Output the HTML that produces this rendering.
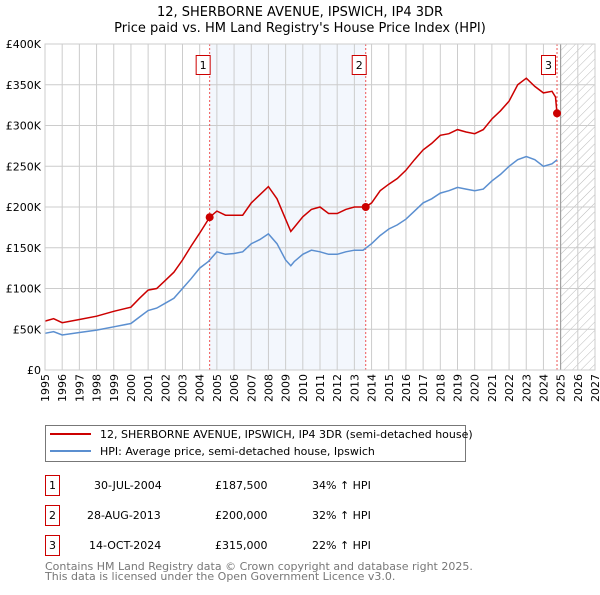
<!DOCTYPE html>
<html><head><meta charset="utf-8"><style>
body{margin:0;background:#fff;}
svg text{font-family:"DejaVu Sans","Liberation Sans",sans-serif;}
</style></head><body>
<svg id="chart" width="600" height="590" viewBox="0 0 600 590" xmlns="http://www.w3.org/2000/svg">
<text x="300" y="16" text-anchor="middle" font-size="13">12, SHERBORNE AVENUE, IPSWICH, IP4 3DR</text>
<text x="300" y="32" text-anchor="middle" font-size="13">Price paid vs. HM Land Registry's House Price Index (HPI)</text>
<defs><pattern id="hatch" width="6" height="6" patternUnits="userSpaceOnUse" patternTransform="rotate(45)"><line x1="0" y1="0" x2="0" y2="6" stroke="#bbb" stroke-width="1"/></pattern></defs>
<g id="plot"></g>
<g>
<rect x="45.5" y="425.5" width="420" height="36" fill="#fff" stroke="#777"/>
<line x1="50" y1="434" x2="91" y2="434" stroke="#cc0000" stroke-width="2"/>
<text x="100" y="438" font-size="11">12, SHERBORNE AVENUE, IPSWICH, IP4 3DR (semi-detached house)</text>
<line x1="50" y1="451" x2="91" y2="451" stroke="#5b8fd0" stroke-width="2"/>
<text x="100" y="455" font-size="11">HPI: Average price, semi-detached house, Ipswich</text>
</g>
<g font-size="11">
<rect x="45.5" y="475.5" width="14" height="20" fill="#fff" stroke="#cc0000"/><text x="52.5" y="489" text-anchor="middle">1</text>
<text x="94" y="489">30-JUL-2004</text><text x="215" y="489">£187,500</text><text x="312" y="489">34% ↑ HPI</text>
<rect x="45.5" y="505.5" width="14" height="20" fill="#fff" stroke="#cc0000"/><text x="52.5" y="519" text-anchor="middle">2</text>
<text x="87" y="519">28-AUG-2013</text><text x="215" y="519">£200,000</text><text x="312" y="519">32% ↑ HPI</text>
<rect x="45.5" y="535.5" width="14" height="20" fill="#fff" stroke="#cc0000"/><text x="52.5" y="549" text-anchor="middle">3</text>
<text x="89" y="549">14-OCT-2024</text><text x="215" y="549">£315,000</text><text x="312" y="549">22% ↑ HPI</text>
</g>
<g font-size="11" fill="#777">
<text x="45" y="570">Contains HM Land Registry data © Crown copyright and database right 2025.</text>
<text x="45" y="580">This data is licensed under the Open Government Licence v3.0.</text>
</g>
</svg>
<script>
const hpiYears=[1995,1995.5,1996,1997,1998,1999,2000,2000.5,2001,2001.5,2002,2002.5,2003,2003.5,2004,2004.5,2005,2005.5,2006,2006.5,2007,2007.5,2008,2008.5,2009,2009.3,2009.5,2010,2010.5,2011,2011.5,2012,2012.5,2013,2013.5,2014,2014.5,2015,2015.5,2016,2016.5,2017,2017.5,2018,2018.5,2019,2019.5,2020,2020.5,2021,2021.5,2022,2022.5,2023,2023.5,2024,2024.5,2024.8];
const hpiValues=[45,47,43,46,49,53,57,65,73,76,82,88,100,112,125,133,145,142,143,145,155,160,167,155,135,128,133,142,147,145,142,142,145,147,147,155,165,173,178,185,195,205,210,217,220,224,222,220,222,232,240,250,258,262,258,250,253,258];
const priceYears=[1995,1995.5,1996,1997,1998,1999,2000,2000.5,2001,2001.5,2002,2002.5,2003,2003.5,2004,2004.58,2005,2005.5,2006,2006.5,2007,2007.5,2008,2008.5,2009,2009.3,2009.5,2010,2010.5,2011,2011.5,2012,2012.5,2013,2013.66,2014,2014.5,2015,2015.5,2016,2016.5,2017,2017.5,2018,2018.5,2019,2019.5,2020,2020.5,2021,2021.5,2022,2022.5,2023,2023.5,2024,2024.5,2024.7,2024.79];
const priceValues=[60,63,58,62,66,72,77,88,98,100,110,120,135,152,168,187.5,195,190,190,190,205,215,225,210,185,170,175,188,197,200,192,192,197,200,200,205,220,228,235,245,258,270,278,288,290,295,292,290,295,308,318,330,350,358,348,340,342,335,315];
const saleLabels=["1","2","3"];
const saleYears=[2004.58,2013.66,2024.79];
const saleValues=[187.5,200,315];
const yTicks=[0,50,100,150,200,250,300,350,400];
const yTickLabels=["£0","£50K","£100K","£150K","£200K","£250K","£300K","£350K","£400K"];
const xTicks=[1995,1996,1997,1998,1999,2000,2001,2002,2003,2004,2005,2006,2007,2008,2009,2010,2011,2012,2013,2014,2015,2016,2017,2018,2019,2020,2021,2022,2023,2024,2025,2026,2027];

const X0=45,X1=595,Y0=370,Y1=44,XMIN=1995,XMAX=2027,YMAX=400,FUT=2025;
const xs=v=>X0+(v-XMIN)/(XMAX-XMIN)*(X1-X0);
const ys=v=>Y0-v/YMAX*(Y0-Y1);
const NS="http://www.w3.org/2000/svg";
const plot=document.getElementById('plot');
function mk(t,a,p){const e=document.createElementNS(NS,t);for(const k in a)e.setAttribute(k,a[k]);(p||plot).appendChild(e);return e;}

const shade=mk('rect',{x:xs(saleYears[0]),y:Y1,width:xs(saleYears[1])-xs(saleYears[0]),height:Y0-Y1,fill:'#eef3fc',opacity:0.7});


const fut=mk('rect',{x:xs(FUT),y:Y1,width:X1-xs(FUT),height:Y0-Y1,fill:'url(#hatch)'});


xTicks.forEach(t=>{mk('line',{x1:xs(t),x2:xs(t),y1:Y1,y2:Y0,stroke:'#ccc','stroke-width':1});
 const tx=mk('text',{x:0,y:0,'font-size':11,'text-anchor':'end',transform:`translate(${xs(t)+4},${Y0+4}) rotate(-90)`});tx.textContent=t;
 
 });
yTicks.forEach((t,i)=>{mk('line',{x1:X0,x2:X1,y1:ys(t),y2:ys(t),stroke:'#ccc','stroke-width':1});
 const tx=mk('text',{x:X0-4,y:ys(t)+4,'font-size':11,'text-anchor':'end'});tx.textContent=yTickLabels[i];
 
 });
mk('line',{x1:xs(FUT),x2:xs(FUT),y1:Y1,y2:Y0,stroke:'#999','stroke-width':1});
saleYears.forEach((s,i)=>{mk('line',{x1:xs(s),x2:xs(s),y1:Y1,y2:Y0,stroke:'#ee5555','stroke-width':1,'stroke-dasharray':'2,2'});
 const bx=xs(s)-(i==2?12:10);
 const r=mk('rect',{x:bx-3.5,y:55.5,width:14,height:19,fill:'#fff',stroke:'#cc0000'});
 
 
 const t=mk('text',{x:bx+3.5,y:69,'font-size':11,'text-anchor':'middle'});t.textContent=saleLabels[i];});
const pts=(xa,va)=>xa.map((x,i)=>xs(x).toFixed(1)+','+ys(va[i]).toFixed(1)).join(' ');
const hpi=mk('polyline',{points:pts(hpiYears,hpiValues),fill:'none',stroke:'#5b8fd0','stroke-width':1.5});


const pr=mk('polyline',{points:pts(priceYears,priceValues),fill:'none',stroke:'#cc0000','stroke-width':1.5});


saleYears.forEach((s,i)=>{const c=mk('circle',{cx:xs(s),cy:ys(saleValues[i]),r:4,fill:'#cc0000'});
 
 });
mk('rect',{x:X0,y:Y1,width:X1-X0,height:Y0-Y1,fill:'none',stroke:'#ccc'});
</script>
</body></html>
